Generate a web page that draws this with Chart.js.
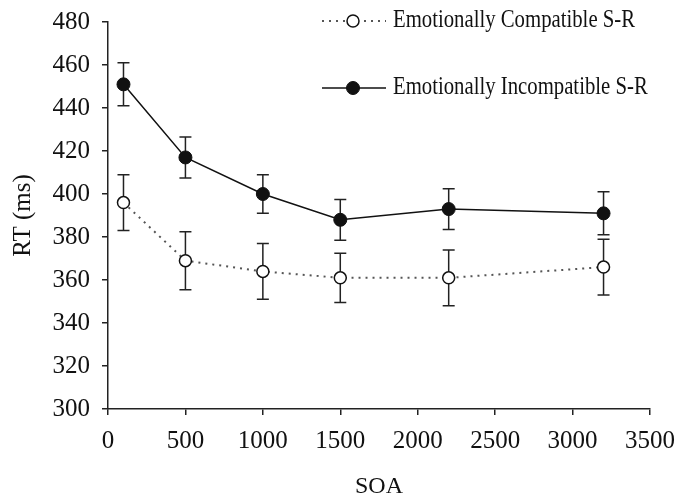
<!DOCTYPE html>
<html>
<head>
<meta charset="utf-8">
<script src="https://cdn.jsdelivr.net/npm/chart.js@4.4.1/dist/chart.umd.min.js"></script>
<style>
  html, body { margin: 0; padding: 0; background: #fff; }
  #wrap { width: 676px; height: 501px; }
</style>
</head>
<body>
<div id="wrap"><canvas id="myChart" width="676" height="501"></canvas></div>
<script>
// SOA conditions (ms) and mean reaction times with error bar half-lengths
const soa = [100, 500, 1000, 1500, 2200, 3200];
const compatibleRT = [396, 369, 364, 361, 361, 366];
const compatibleErr = [13, 13.5, 13, 11.5, 13, 13];
const incompatibleRT = [451, 417, 400, 388, 393, 391];
const incompatibleErr = [10, 9.5, 9, 9.5, 9.5, 10];
const seriesNames = ['Emotionally Compatible S-R', 'Emotionally Incompatible S-R'];
const xTickRange = [0, 3500, 500];
const yTickRange = [300, 480, 20];

const serif = "'Liberation Serif', 'Times New Roman', serif";
const ink = '#111';

function toPoints(xs, ys) {
    return xs.map(function (x, i) { return { x: x, y: ys[i] }; });
}

// vertical error bars with caps, drawn under the markers
const errorBars = {
    id: 'errorBars',
    beforeDatasetsDraw(chart) {
        const ctx = chart.ctx;
        const xs = chart.scales.x, ys = chart.scales.y;
        const errs = [compatibleErr, incompatibleErr];
        ctx.save();
        ctx.strokeStyle = '#222';
        ctx.lineWidth = 1.5;
        chart.data.datasets.forEach(function (ds, di) {
            ds.data.forEach(function (p, i) {
                const px = xs.getPixelForValue(p.x);
                const top = ys.getPixelForValue(p.y + errs[di][i]);
                const bot = ys.getPixelForValue(p.y - errs[di][i]);
                ctx.beginPath();
                ctx.moveTo(px, top); ctx.lineTo(px, bot);
                ctx.moveTo(px - 6, top); ctx.lineTo(px + 6, top);
                ctx.moveTo(px - 6, bot); ctx.lineTo(px + 6, bot);
                ctx.stroke();
            });
        });
        ctx.restore();
    }
};

// legend in the upper right, two rows with line samples
const sideLegend = {
    id: 'sideLegend',
    afterDraw(chart) {
        const ctx = chart.ctx;
        const rows = [
            { y: 21, ds: chart.data.datasets[0] },
            { y: 88, ds: chart.data.datasets[1] }
        ];
        ctx.save();
        rows.forEach(function (r) {
            ctx.beginPath();
            ctx.strokeStyle = r.ds.borderColor;
            ctx.lineWidth = r.ds.borderWidth;
            ctx.setLineDash(r.ds.borderDash || []);
            ctx.moveTo(322, r.y); ctx.lineTo(386, r.y);
            ctx.stroke();
            ctx.setLineDash([]);
            ctx.beginPath();
            ctx.arc(353, r.y, r.ds.pointRadius, 0, Math.PI * 2);
            ctx.fillStyle = r.ds.pointBackgroundColor;
            ctx.fill();
            ctx.lineWidth = r.ds.pointBorderWidth;
            ctx.strokeStyle = r.ds.pointBorderColor;
            ctx.stroke();

            // narrow, tightly set lettering
            ctx.save();
            ctx.translate(393, r.y + 6);
            ctx.scale(0.83, 1);
            ctx.font = '25px ' + serif;
            ctx.fillStyle = ink;
            ctx.textBaseline = 'alphabetic';
            ctx.fillText(r.ds.label, 0, 0);
            ctx.restore();
        });
        ctx.restore();
    }
};

const ctx = document.getElementById('myChart').getContext('2d');
new Chart(ctx, {
    type: 'line',
    data: {
        datasets: [
            {
                label: seriesNames[0],
                data: toPoints(soa, compatibleRT),
                borderColor: '#555',
                borderWidth: 2,
                borderDash: [2, 5],
                pointRadius: 6,
                pointBackgroundColor: '#fff',
                pointBorderColor: '#111',
                pointBorderWidth: 1.5,
                tension: 0
            },
            {
                label: seriesNames[1],
                data: toPoints(soa, incompatibleRT),
                borderColor: '#111',
                borderWidth: 1.5,
                pointRadius: 6.5,
                pointBackgroundColor: '#111',
                pointBorderColor: '#111',
                pointBorderWidth: 1,
                tension: 0
            }
        ]
    },
    options: {
        responsive: false,
        animation: false,
        layout: { padding: { top: 22, right: 26, bottom: 0, left: 0 } },
        plugins: {
            legend: { display: false },
            tooltip: { enabled: false }
        },
        scales: {
            x: {
                type: 'linear',
                min: xTickRange[0],
                max: xTickRange[1],
                afterFit(scale) {
                    scale.height = 92;
                    scale.paddingLeft = 0;
                    scale.paddingRight = 0;
                },
                ticks: {
                    stepSize: xTickRange[2],
                    color: ink,
                    padding: 11,
                    font: { family: serif, size: 25 },
                    callback: function (v) { return String(v); }
                },
                grid: { drawOnChartArea: false, tickLength: 6, color: '#222', lineWidth: 1.5 },
                border: { color: '#222', width: 1.5 },
                title: {
                    display: true,
                    text: 'SOA',
                    color: ink,
                    padding: 0,
                    font: { family: serif, size: 24 }
                }
            },
            y: {
                min: yTickRange[0],
                max: yTickRange[1],
                afterFit(scale) {
                    scale.width = 108;
                    scale.paddingTop = 0;
                    scale.paddingBottom = 0;
                },
                ticks: {
                    stepSize: yTickRange[2],
                    color: ink,
                    padding: 12,
                    font: { family: serif, size: 25 }
                },
                grid: { drawOnChartArea: false, tickLength: 6, color: '#222', lineWidth: 1.5 },
                border: { color: '#222', width: 1.5 },
                title: {
                    display: true,
                    text: 'RT (ms)',
                    color: ink,
                    padding: { top: 8, bottom: 0 },
                    font: { family: serif, size: 25 }
                }
            }
        }
    },
    plugins: [errorBars, sideLegend]
});
</script>
</body>
</html>
